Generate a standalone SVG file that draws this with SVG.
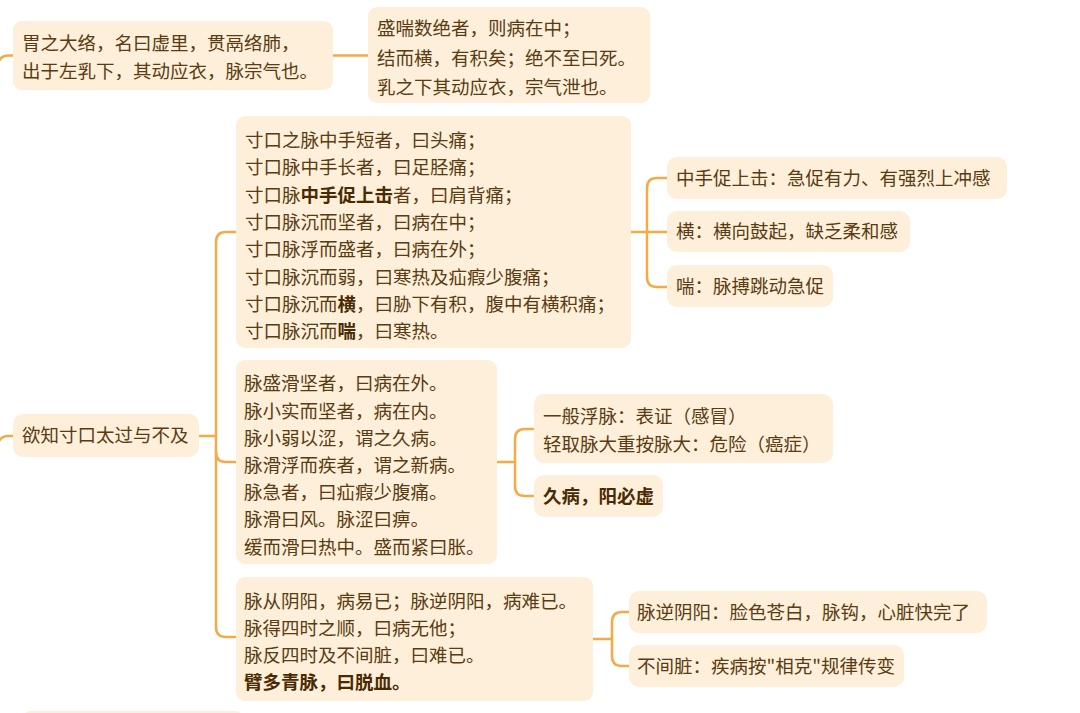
<svg xmlns="http://www.w3.org/2000/svg" width="1080" height="713" viewBox="0 0 1080 713">
<style>
.box{fill:#FDEFD9;}
.t{font-family:"Noto Sans CJK SC","Noto Sans",sans-serif;font-size:18.5px;fill:#5A3B12;}
.b{font-weight:bold;fill:#4A2A02;}
.c{fill:none;stroke:#F5AA45;stroke-width:2.5;stroke-linecap:round;stroke-linejoin:round;}
</style>
<rect width="1080" height="713" fill="#FFFFFF"/>
<g id="connectors">
<path class="c" d="M -4 76 Q -4 55.5 8 55.5 L 13 55.5"/>
<path class="c" d="M 333 55.5 L 368 55.5"/>
<path class="c" d="M -4 456 Q -4 436 8 436 L 13 436"/>
<path class="c" d="M 199 436 L 216 436"/>
<path class="c" d="M 236 232 L 226 232 Q 216 232 216 242 L 216 627 Q 216 637 226 637 L 236 637"/>
<path class="c" d="M 216 452 Q 216 462 226 462 L 236 462"/>
<path class="c" d="M 631 232 L 667 232"/>
<path class="c" d="M 667 178 L 657 178 Q 647 178 647 188 L 647 277 Q 647 287 657 287 L 667 287"/>
<path class="c" d="M 497 462 L 515 462"/>
<path class="c" d="M 534 429 L 525 429 Q 515 429 515 439 L 515 486 Q 515 496 525 496 L 534 496"/>
<path class="c" d="M 593 639 L 612 639"/>
<path class="c" d="M 629 612 L 622 612 Q 612 612 612 622 L 612 656 Q 612 666 622 666 L 629 666"/>
</g>
<g id="n1">
<rect class="box" x="13" y="21" width="320" height="69" rx="9"/>
<text class="t" x="22" y="49.5">胃之大络，名曰虚里，贯鬲络肺，</text>
<text class="t" x="22" y="77.5">出于左乳下，其动应衣，脉宗气也。</text>
</g>
<g id="n2">
<rect class="box" x="368" y="7" width="282" height="96" rx="9"/>
<text class="t" x="377" y="35">盛喘数绝者，则病在中；</text>
<text class="t" x="377" y="64.5">结而横，有积矣；绝不至曰死。</text>
<text class="t" x="377" y="93.5">乳之下其动应衣，宗气泄也。</text>
</g>
<g id="n3">
<rect class="box" x="236" y="116" width="395" height="232" rx="9"/>
<text class="t" x="245" y="146.5">寸口之脉中手短者，曰头痛；</text>
<text class="t" x="245" y="174">寸口脉中手长者，曰足胫痛；</text>
<text class="t" x="245" y="201.5">寸口脉<tspan class="b">中手促上击</tspan>者，曰肩背痛；</text>
<text class="t" x="245" y="228.5">寸口脉沉而坚者，曰病在中；</text>
<text class="t" x="245" y="256">寸口脉浮而盛者，曰病在外；</text>
<text class="t" x="245" y="283.5">寸口脉沉而弱，曰寒热及疝瘕少腹痛；</text>
<text class="t" x="245" y="310.5">寸口脉沉而<tspan class="b">横</tspan>，曰胁下有积，腹中有横积痛；</text>
<text class="t" x="245" y="337.5">寸口脉沉而<tspan class="b">喘</tspan>，曰寒热。</text>
</g>
<g id="n3a">
<rect class="box" x="667" y="157" width="340" height="42" rx="10"/>
<text class="t" x="676" y="184.5">中手促上击：急促有力、有强烈上冲感</text>
</g>
<g id="n3b">
<rect class="box" x="667" y="211" width="243" height="41" rx="10"/>
<text class="t" x="676" y="238">横：横向鼓起，缺乏柔和感</text>
</g>
<g id="n3c">
<rect class="box" x="667" y="265" width="166" height="42" rx="10"/>
<text class="t" x="676" y="292.5">喘：脉搏跳动急促</text>
</g>
<g id="root">
<rect class="box" x="13" y="414" width="186" height="43" rx="10"/>
<text class="t" x="22" y="442">欲知寸口太过与不及</text>
</g>
<g id="n4">
<rect class="box" x="236" y="360" width="261" height="204" rx="9"/>
<text class="t" x="244" y="389.5">脉盛滑坚者，曰病在外。</text>
<text class="t" x="244" y="418">脉小实而坚者，病在内。</text>
<text class="t" x="244" y="444.5">脉小弱以涩，谓之久病。</text>
<text class="t" x="244" y="471.5">脉滑浮而疾者，谓之新病。</text>
<text class="t" x="244" y="498.5">脉急者，曰疝瘕少腹痛。</text>
<text class="t" x="244" y="526">脉滑曰风。脉涩曰痹。</text>
<text class="t" x="244" y="554">缓而滑曰热中。盛而紧曰胀。</text>
</g>
<g id="n4a">
<rect class="box" x="534" y="394" width="299" height="69" rx="10"/>
<text class="t" x="543" y="423">一般浮脉：表证（感冒）</text>
<text class="t" x="543" y="451">轻取脉大重按脉大：危险（癌症）</text>
</g>
<g id="n4b">
<rect class="box" x="534" y="475" width="129" height="42" rx="10"/>
<text class="t b" x="543" y="502.5">久病，阳必虚</text>
</g>
<g id="n5">
<rect class="box" x="236" y="577" width="357" height="124" rx="9"/>
<text class="t" x="244" y="608">脉从阴阳，病易已；脉逆阴阳，病难已。</text>
<text class="t" x="244" y="634.5">脉得四时之顺，曰病无他；</text>
<text class="t" x="244" y="661.5">脉反四时及不间脏，曰难已。</text>
<text class="t b" x="244" y="689">臂多青脉，曰脱血。</text>
</g>
<g id="n5a">
<rect class="box" x="629" y="591" width="358" height="42" rx="10"/>
<text class="t" x="637" y="618.5">脉逆阴阳：脸色苍白，脉钩，心脏快完了</text>
</g>
<g id="n5b">
<rect class="box" x="629" y="645" width="275" height="42" rx="10"/>
<text class="t" x="637" y="672.5">不间脏：疾病按"相克"规律传变</text>
</g>
<g id="n6">
<rect class="box" x="22" y="711" width="222" height="20" rx="9"/>
</g>
</svg>
